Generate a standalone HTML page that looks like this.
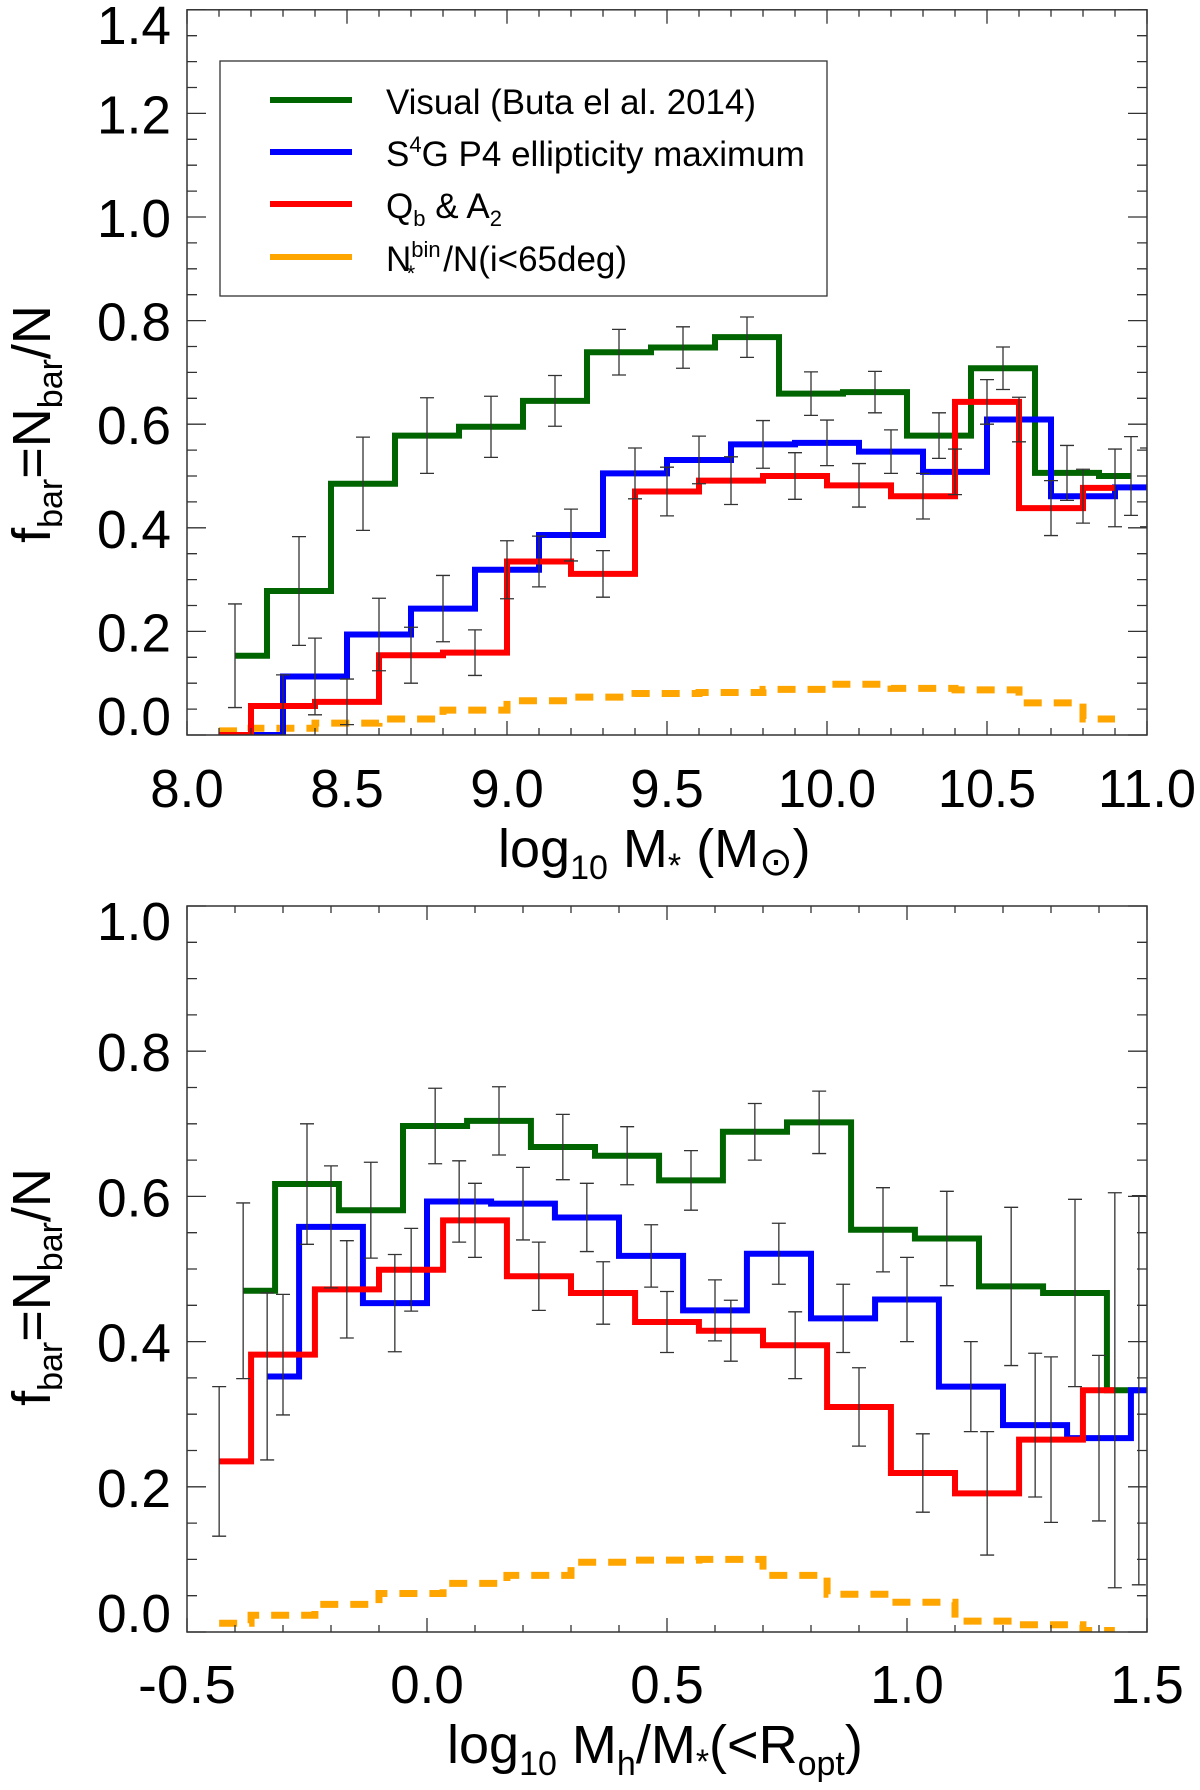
<!DOCTYPE html>
<html>
<head>
<meta charset="utf-8">
<style>
html,body{margin:0;padding:0;background:#fff;}
svg{display:block;font-family:"Liberation Sans","DejaVu Sans",sans-serif;}
</style>
</head>
<body>
<svg id="fig" width="1200" height="1790" viewBox="0 0 1200 1790" xmlns="http://www.w3.org/2000/svg">
  <defs>
    <clipPath id="clipTop"><rect x="187" y="9.5" width="960" height="725.5"/></clipPath>
    <clipPath id="clipBot"><rect x="187" y="906" width="960" height="726"/></clipPath>
  </defs>
  <g id="topPanel"></g>
  <g id="botPanel"></g>

  <!-- legend -->
  <g>
    <rect x="220" y="61" width="607" height="235" fill="#fff" stroke="#333" stroke-width="1.3"/>
    <line x1="270" y1="100" x2="352" y2="100" stroke="#006400" stroke-width="6"/>
    <text x="386" y="114" font-size="35" textLength="370" lengthAdjust="spacingAndGlyphs">Visual (Buta el al. 2014)</text>
    <line x1="270" y1="152" x2="352" y2="152" stroke="#0000ff" stroke-width="6"/>
    <text x="386" y="166" font-size="35">S<tspan font-size="22" dy="-14">4</tspan><tspan dy="14">G P4 ellipticity maximum</tspan></text>
    <line x1="270" y1="204" x2="352" y2="204" stroke="#ff0000" stroke-width="6"/>
    <text x="386" y="218" font-size="35">Q<tspan font-size="22" dy="8">b</tspan><tspan dy="-8"> &amp; A</tspan><tspan font-size="22" dy="8">2</tspan></text>
    <line x1="270" y1="257" x2="352" y2="257" stroke="#ffa500" stroke-width="6"/>
    <text x="386" y="271" font-size="35">N<tspan font-size="22" dy="-14">bin</tspan><tspan font-size="22" dx="-34" dy="24">*</tspan><tspan dx="28" dy="-10">/N(i&lt;65deg)</tspan></text>
  </g>

  <!-- axis titles -->
  <text x="498" y="867" font-size="54">log<tspan font-size="34" dy="12">10</tspan><tspan dy="-12"> M</tspan><tspan font-size="34" dy="10">*</tspan><tspan dy="-10"> (M</tspan><tspan font-size="40" dy="8">⊙</tspan><tspan dy="-8">)</tspan></text>
  <text x="447" y="1763" font-size="54">log<tspan font-size="34" dy="12">10</tspan><tspan dy="-12"> M</tspan><tspan font-size="34" dy="12">h</tspan><tspan dy="-12">/M</tspan><tspan font-size="34" dy="10">*</tspan><tspan dy="-10">(&lt;R</tspan><tspan font-size="34" dy="12">opt</tspan><tspan dy="-12">)</tspan></text>
  <text transform="translate(50,424) rotate(-90)" text-anchor="middle" font-size="54">f<tspan font-size="34" dy="12">bar</tspan><tspan dy="-12">=N</tspan><tspan font-size="34" dy="12">bar</tspan><tspan dy="-12">/N</tspan></text>
  <text transform="translate(50,1287) rotate(-90)" text-anchor="middle" font-size="54">f<tspan font-size="34" dy="12">bar</tspan><tspan dy="-12">=N</tspan><tspan font-size="34" dy="12">bar</tspan><tspan dy="-12">/N</tspan></text>

<script>
// ---------- TOP PANEL DATA (log10 M*) ----------
var topGreenX = [8.15,8.35,8.55,8.75,8.95,9.15,9.35,9.55,9.75,9.95,10.15,10.35,10.55,10.75,10.95];
var topGreenY = [0.153,0.278,0.485,0.578,0.595,0.645,0.739,0.748,0.768,0.659,0.662,0.578,0.708,0.506,0.500];
var topGreenErr = [0.100,0.105,0.090,0.073,0.059,0.049,0.044,0.040,0.039,0.042,0.040,0.044,0.041,0.053,0.076];
var topBlueX = [8.2,8.4,8.6,8.8,9.0,9.2,9.4,9.6,9.8,10.0,10.2,10.4,10.6,10.8,11.0];
var topBlueY = [0.0,0.113,0.194,0.244,0.319,0.386,0.505,0.531,0.561,0.564,0.547,0.508,0.609,0.461,0.478];
var topBlueErr = [0,0.074,0.070,0.064,0.056,0.050,0.049,0.046,0.046,0.044,0.042,0.044,0.043,0.052,0.076];
var topRedX = [8.1,8.3,8.5,8.7,8.9,9.1,9.3,9.5,9.7,9.9,10.1,10.3,10.5,10.7,10.9];
var topRedY = [0.0,0.056,0.064,0.154,0.159,0.335,0.311,0.470,0.491,0.500,0.482,0.461,0.643,0.438,0.477];
var topRedErr = [0,0.060,0.044,0.054,0.044,0.049,0.045,0.047,0.046,0.045,0.042,0.044,0.043,0.053,0.075];
var topOrangeY = [0.008,0.013,0.023,0.031,0.048,0.066,0.073,0.080,0.082,0.088,0.098,0.090,0.087,0.062,0.031];
var topXTicks = ["8.0","8.5","9.0","9.5","10.0","10.5","11.0"];
var topYTicks = ["0.0","0.2","0.4","0.6","0.8","1.0","1.2","1.4"];

// ---------- BOTTOM PANEL DATA (log10 Mh/M*) ----------
var botGreenX = [-0.383,-0.25,-0.117,0.017,0.15,0.283,0.417,0.55,0.683,0.817,0.95,1.083,1.217,1.35,1.483];
var botGreenY = [0.470,0.617,0.581,0.697,0.704,0.668,0.656,0.622,0.689,0.702,0.554,0.542,0.476,0.467,0.333];
var botGreenErr = [0.121,0.083,0.066,0.052,0.047,0.045,0.040,0.041,0.039,0.043,0.058,0.065,0.109,0.129,0.268];
var botBlueX = [-0.333,-0.2,-0.067,0.067,0.2,0.333,0.467,0.6,0.733,0.867,1.0,1.133,1.267,1.4,1.533];
var botBlueY = [0.352,0.558,0.453,0.593,0.590,0.571,0.518,0.443,0.521,0.432,0.458,0.338,0.285,0.267,0.333];
var botBlueErr = [0.115,0.084,0.067,0.056,0.050,0.047,0.043,0.042,0.042,0.047,0.058,0.062,0.099,0.114,0.270];
var botRedX = [-0.433,-0.3,-0.167,-0.033,0.1,0.233,0.367,0.5,0.633,0.767,0.9,1.033,1.167,1.3,1.433];
var botRedY = [0.235,0.382,0.472,0.499,0.567,0.490,0.467,0.427,0.415,0.395,0.310,0.219,0.191,0.265,0.333];
var botRedErr = [0.103,0.083,0.067,0.057,0.051,0.047,0.043,0.042,0.042,0.046,0.054,0.054,0.085,0.114,0.272];
var botOrangeY = [0.012,0.023,0.038,0.053,0.067,0.078,0.096,0.099,0.100,0.078,0.052,0.041,0.015,0.010,0.002];
var botXTicks = ["-0.5","0.0","0.5","1.0","1.5"];
var botYTicks = ["0.0","0.2","0.4","0.6","0.8","1.0"];

var NS = "http://www.w3.org/2000/svg";
function mk(tag, attrs, parent){
  var e = document.createElementNS(NS, tag);
  for (var k in attrs) e.setAttribute(k, attrs[k]);
  parent.appendChild(e);
  return e;
}

function stepPath(xs, ys, sx, sy){
  var d = "M" + sx(xs[0]) + "," + sy(ys[0]);
  for (var i = 1; i < xs.length; i++){
    var m = sx((xs[i-1] + xs[i]) / 2);
    d += " L" + m + "," + sy(ys[i-1]) + " L" + m + "," + sy(ys[i]);
  }
  d += " L" + sx(xs[xs.length-1]) + "," + sy(ys[ys.length-1]);
  return d;
}

function drawPanel(g, cfg){
  var L = cfg.L, R = cfg.R, T = cfg.T, B = cfg.B;
  var sx = cfg.sx, sy = cfg.sy;
  var clip = mk("g", {"clip-path": "url(#" + cfg.clip + ")"}, g);
  
  

  for (var s = 0; s < cfg.series.length; s++){
    var S = cfg.series[s];
    var p = mk("path", {d: stepPath(S.x, S.y, sx, sy), fill: "none", stroke: S.color,
      "stroke-width": S.dash ? 7 : 6, "stroke-dasharray": S.dash ? "18 12" : "none",
      "stroke-linejoin": "miter", "stroke-linecap": "butt"}, clip);
    
    
  }
  for (var s2 = 0; s2 < cfg.series.length; s2++){
    var S2 = cfg.series[s2];
    if (!S2.err) continue;
    for (var i = 0; i < S2.x.length; i++){
      if (!S2.err[i]) continue;
      var cx = sx(S2.x[i]), y1 = sy(S2.y[i] + S2.err[i]), y2 = sy(S2.y[i] - S2.err[i]);
      var eb = mk("path", {d: "M" + cx + "," + y1 + " L" + cx + "," + y2 +
        " M" + (cx-7) + "," + y1 + " L" + (cx+7) + "," + y1 +
        " M" + (cx-7) + "," + y2 + " L" + (cx+7) + "," + y2,
        fill: "none", stroke: "#333", "stroke-width": 1.3}, clip);
      
      
    }
  }

  var fr = mk("rect", {x: L, y: T, width: R-L, height: B-T, fill: "none", stroke: "#333", "stroke-width": 1.5}, g);
  
  

  var xt = "";
  for (var v = cfg.xMin; v <= cfg.xMax + 1e-9; v += cfg.xMinor){
    var x = sx(v);
    var major = Math.abs(Math.round((v - cfg.xMin)/cfg.xMajor)*cfg.xMajor - (v - cfg.xMin)) < 1e-6;
    var len = major ? 14 : 7;
    xt += "M" + x + "," + B + " L" + x + "," + (B-len) + " M" + x + "," + T + " L" + x + "," + (T+len) + " ";
  }
  var xtp = mk("path", {d: xt, stroke: "#333", "stroke-width": 1.3, fill: "none"}, g);
  
  
  var yt = "";
  for (var w = 0; w <= cfg.yMax + 1e-9; w += 0.05){
    var y = sy(w);
    var maj = Math.abs(Math.round(w/0.2)*0.2 - w) < 1e-6;
    var ln = maj ? 19 : 10;
    yt += "M" + L + "," + y + " L" + (L+ln) + "," + y + " M" + R + "," + y + " L" + (R-ln) + "," + y + " ";
  }
  var ytp = mk("path", {d: yt, stroke: "#333", "stroke-width": 1.3, fill: "none"}, g);
  
  

  for (var k = 0; k < cfg.xLabels.length; k++){
    var lab = cfg.xLabels[k];
    var t = mk("text", {x: sx(parseFloat(lab)), y: cfg.xLabelY, "font-size": 54, "text-anchor": "middle",
      textLength: lab.length * 24.5, lengthAdjust: "spacingAndGlyphs"}, g);
    t.textContent = lab;
    
    
  }
  for (var j = 0; j < cfg.yLabels.length; j++){
    var yl = cfg.yLabels[j];
    var c = sy(parseFloat(yl));
    if (j === 0) c -= 20;
    if (j === cfg.yLabels.length - 1) c += 14;
    var ty = mk("text", {x: 171, y: c + 20, "font-size": 54, "text-anchor": "end",
      textLength: 74, lengthAdjust: "spacingAndGlyphs"}, g);
    ty.textContent = yl;
    
    
  }
}

function xT(v){ return 187 + (v - 8) * 320; }
function yT(v){ return 735 - v * 518; }
drawPanel(document.getElementById("topPanel"), {
  prefix: "top", L: 187, R: 1147, T: 9.8, B: 735, sx: xT, sy: yT, clip: "clipTop",
  xMin: 8, xMax: 11, xMinor: 0.1, xMajor: 0.5, yMax: 1.4,
  xLabels: topXTicks, yLabels: topYTicks, xLabelY: 807,
  series: [
    {name: "orange-nbin", x: topRedX, y: topOrangeY, color: "#ffa500", dash: true},
    {name: "green-visual", x: topGreenX, y: topGreenY, err: topGreenErr, color: "#006400"},
    {name: "blue-s4g", x: topBlueX, y: topBlueY, err: topBlueErr, color: "#0000ff"},
    {name: "red-qb-a2", x: topRedX, y: topRedY, err: topRedErr, color: "#ff0000"}
  ]
});

function xB(v){ return 187 + (v + 0.5) * 480; }
function yB(v){ return 1632 - v * 726; }
drawPanel(document.getElementById("botPanel"), {
  prefix: "bottom", L: 187, R: 1147, T: 906, B: 1632, sx: xB, sy: yB, clip: "clipBot",
  xMin: -0.5, xMax: 1.5, xMinor: 0.1, xMajor: 0.5, yMax: 1.0,
  xLabels: botXTicks, yLabels: botYTicks, xLabelY: 1703,
  series: [
    {name: "orange-nbin", x: botRedX, y: botOrangeY, color: "#ffa500", dash: true},
    {name: "green-visual", x: botGreenX, y: botGreenY, err: botGreenErr, color: "#006400"},
    {name: "blue-s4g", x: botBlueX, y: botBlueY, err: botBlueErr, color: "#0000ff"},
    {name: "red-qb-a2", x: botRedX, y: botRedY, err: botRedErr, color: "#ff0000"}
  ]
});
</script>
</svg>
</body>
</html>
